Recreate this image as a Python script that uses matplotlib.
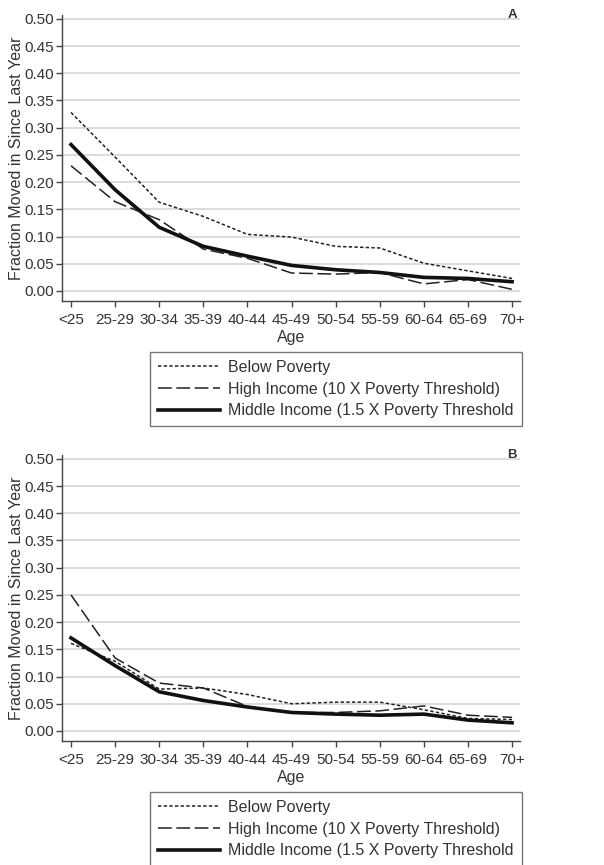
import matplotlib
matplotlib.use("Agg")
import matplotlib.pyplot as plt

plt.rcParams['font.family'] = ['Liberation Sans', 'DejaVu Sans']

ages = ['<25', '25-29', '30-34', '35-39', '40-44', '45-49',
        '50-54', '55-59', '60-64', '65-69', '70+']

# Panel A
below_a = [0.328, 0.246, 0.163, 0.137, 0.104, 0.099, 0.082, 0.079, 0.051, 0.037, 0.023]
high_a = [0.230, 0.164, 0.131, 0.077, 0.060, 0.033, 0.031, 0.034, 0.013, 0.021, 0.003]
middle_a = [0.269, 0.186, 0.117, 0.082, 0.064, 0.047, 0.039, 0.034, 0.025, 0.023, 0.017]

# Panel B
below_b = [0.161, 0.128, 0.077, 0.079, 0.067, 0.050, 0.053, 0.053, 0.039, 0.023, 0.021]
high_b = [0.250, 0.134, 0.088, 0.079, 0.045, 0.034, 0.034, 0.037, 0.046, 0.029, 0.025]
middle_b = [0.171, 0.120, 0.072, 0.056, 0.044, 0.034, 0.031, 0.029, 0.031, 0.020, 0.015]

yticks = [0.00, 0.05, 0.10, 0.15, 0.20, 0.25, 0.30, 0.35, 0.40, 0.45, 0.50]
labels = ['Below Poverty', 'High Income (10 X Poverty Threshold)',
          'Middle Income (1.5 X Poverty Threshold']

W, H = 604, 865
txt = '#333333'
fig = plt.figure(figsize=(W / 100, H / 100), dpi=100)
fig.patch.set_facecolor('white')


def panel(top_px, below, high, middle, letter):
    left, right, bottom = 62, 520, top_px + 286
    ax = fig.add_axes([left / W, 1 - bottom / H, (right - left) / W, 286 / H])
    x = range(len(ages))
    ax.plot(x, below, color='#222222', lw=1.1, dashes=(2.2, 1.5), label=labels[0])
    ax.plot(x, high, color='#222222', lw=1.1, dashes=(9, 3), label=labels[1])
    ax.plot(x, middle, color='#111111', lw=2.6, label=labels[2])

    ax.set_xlim(-0.204, 10.18)
    ax.set_ylim(-0.0184, 0.507)
    ax.set_yticks(yticks)
    ax.set_yticklabels([f'{v:.2f}' for v in yticks])
    ax.set_xticks(list(x))
    ax.set_xticklabels(ages)
    ax.grid(axis='y', color='#dcdcdc', lw=1.4)
    ax.set_axisbelow(True)
    for s in ['top', 'right']:
        ax.spines[s].set_visible(False)
    for s in ['left', 'bottom']:
        ax.spines[s].set_color('#444444')
        ax.spines[s].set_linewidth(1.0)
    ax.tick_params(colors='#444444', labelcolor=txt, labelsize=11,
                   length=4, width=1.0, pad=2)
    ax.tick_params(axis='x', pad=5)
    ax.set_xlabel('Age', fontsize=11.5, color=txt, labelpad=2)
    ax.set_ylabel('Fraction Moved in Since Last Year', fontsize=11.5,
                  color=txt, labelpad=0)
    ax.text(512 / W, 1 - top_px / H, letter, transform=fig.transFigure,
            fontsize=9.5, fontweight='bold', color='#333333',
            ha='center', va='center')

    leg = ax.legend(loc='upper left', bbox_to_anchor=(150 / W, 1 - (bottom + 51) / H),
                    bbox_transform=fig.transFigure, borderaxespad=0,
                    fontsize=11.5, handlelength=3.9, handletextpad=0.5,
                    labelspacing=0.42, borderpad=0.5, fancybox=False,
                    frameon=True, labelcolor=txt)
    leg.get_frame().set_edgecolor('#555555')
    leg.get_frame().set_linewidth(1.0)
    return ax


panel(15, below_a, high_a, middle_a, 'A')
panel(455, below_b, high_b, middle_b, 'B')

fig.savefig('out.png', dpi=100, facecolor='white')
